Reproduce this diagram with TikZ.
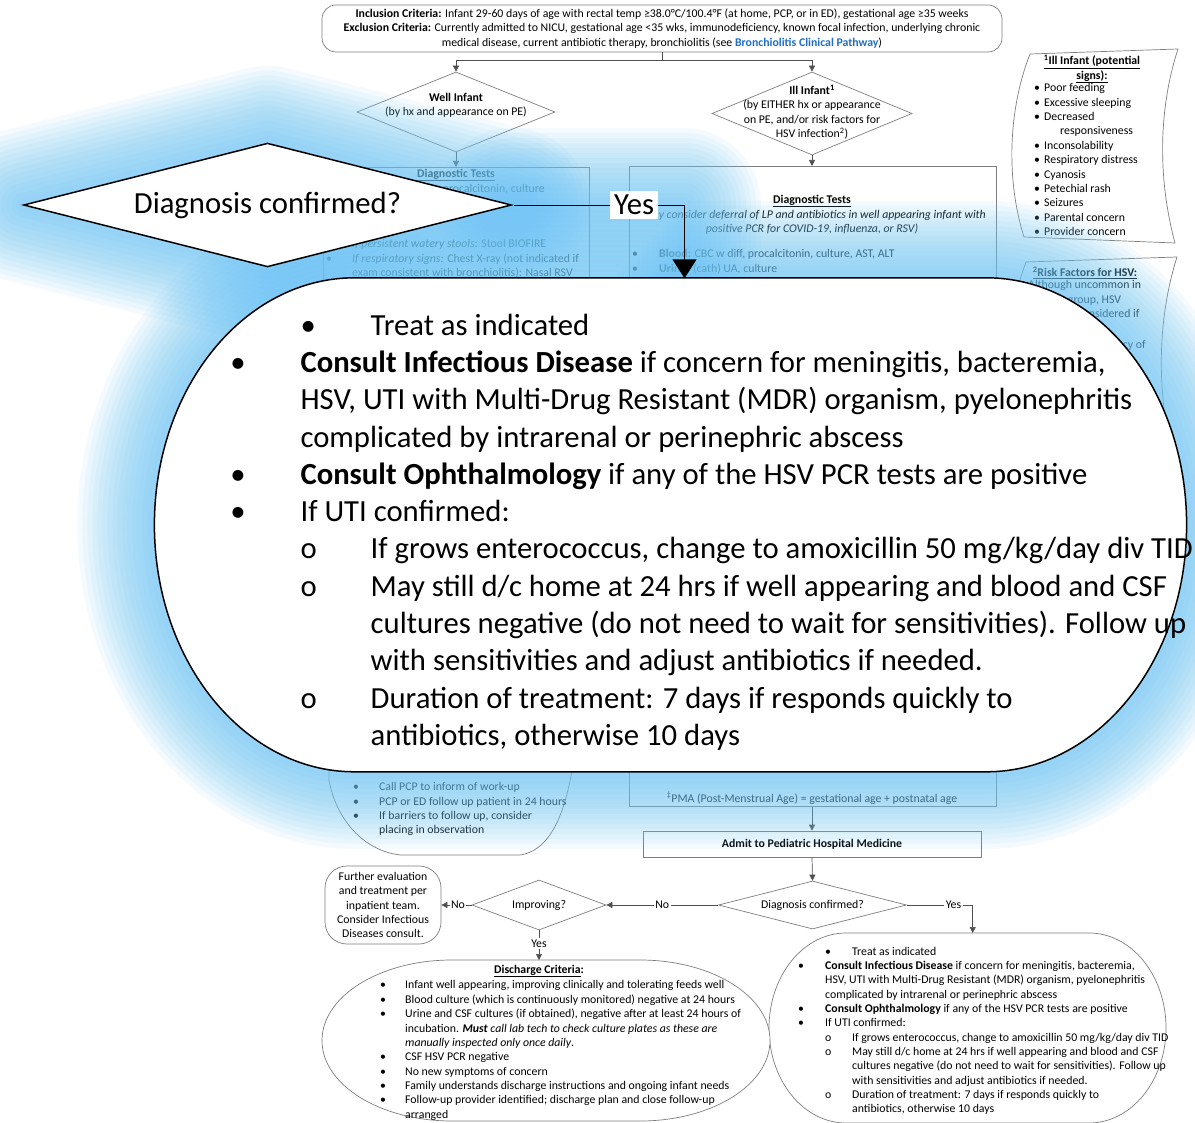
\documentclass[tikz,border=0pt]{standalone}
\usepackage{fontspec}
\setmainfont{Carlito}
\usetikzlibrary{shapes.geometric,arrows.meta}

\definecolor{linkblue}{HTML}{1F6FC4}
\definecolor{glowblue}{RGB}{110,198,246}
\definecolor{boxgray}{HTML}{7F7F7F}
\definecolor{wiregray}{HTML}{505050}

\tikzset{
  txt/.style={font=\fontsize{11.8}{14.35}\selectfont, inner sep=0pt, text=black},
  shapeline/.style={draw=boxgray, line width=0.7pt},
  wire/.style={draw=wiregray, line width=0.7pt},
  arr/.style={wire, -{Triangle[length=6pt,width=6pt]}},
  lbl/.style={txt, fill=white, inner sep=1.5pt},
  dec/.style={diamond, shapeline, fill=white, inner sep=0pt},
  halo/.style={draw=glowblue, opacity=0.075, line join=round, line cap=round},
}

% bulleted rows: fixed-width bullet column, continuation rows indented
\newcommand\bul[2][27pt]{\makebox[#1][l]{•}#2}
\newcommand\subul[2]{\hspace*{27pt}\makebox[27pt][l]{#1}#2}
\newcommand\bcont[2][27pt]{\hspace*{#1}#2}
\newcommand\blist[1]{\begin{tabular}{@{}l@{}}#1\end{tabular}}

% flat-topped oval with elliptic ends: left centre x, right centre x, end radius, top, bottom
\newcommand\stadium[5]{%
 (#1,#4) -- (#2,#4)
 .. controls ({#2+0.5523*#3},#4) and ({#2+#3},{(#4+#5)/2-0.5523*(#5-#4)/2}) .. ({#2+#3},{(#4+#5)/2})
 .. controls ({#2+#3},{(#4+#5)/2+0.5523*(#5-#4)/2}) and ({#2+0.5523*#3},#5) .. (#2,#5)
 -- (#1,#5)
 .. controls ({#1-0.5523*#3},#5) and ({#1-#3},{(#4+#5)/2+0.5523*(#5-#4)/2}) .. ({#1-#3},{(#4+#5)/2})
 .. controls ({#1-#3},{(#4+#5)/2-0.5523*(#5-#4)/2}) and ({#1-0.5523*#3},#4) .. (#1,#4) -- cycle}

\newcommand\treatlist{\blist{%
 \subul{•}{Treat as indicated}\\
 \bul{\textbf{Consult Infectious Disease} if concern for meningitis, bacteremia,}\\
 \bcont{HSV, UTI with Multi-Drug Resistant (MDR) organism, pyelonephritis}\\
 \bcont{complicated by intrarenal or perinephric abscess}\\
 \bul{\textbf{Consult Ophthalmology} if any of the HSV PCR tests are positive}\\
 \bul{If UTI confirmed:}\\
 \subul{o}{If grows enterococcus, change to amoxicillin 50 mg/kg/day div TID}\\
 \subul{o}{May still d/c home at 24 hrs if well appearing and blood and CSF}\\
 \bcont[54pt]{cultures negative (do not need to wait for sensitivities). Follow up}\\
 \bcont[54pt]{with sensitivities and adjust antibiotics if needed.}\\
 \subul{o}{Duration of treatment: 7 days if responds quickly to}\\
 \bcont[54pt]{antibiotics, otherwise 10 days}}}

% decision, Yes branch and treatment oval
% #1 name prefix, #2 outline colour, #3 connector colour, #4 line width, #5 arrow tip
\newcommand\treatgroup[5]{%
  \node[diamond, draw=#2, line width=#4, fill=white, inner sep=0pt,
        minimum width=188, minimum height=48] (#1dec) at (812.5,905) {};
  \node[txt] (#1dect) at (812.5,905) {Diagnosis confirmed?};
  \draw[draw=#2, line width=#4, fill=white] \stadium{846}{1089}{77}{933}{1123};
  \coordinate (#1turn) at (972.7,905);
  \coordinate (#1ovtop) at (972.7,933);
  \draw[draw=#3, line width=#4, #5] (#1dec.east) -- (#1turn) -- (#1ovtop);
  \node[lbl] (#1yes) at (953.5,905) {Yes};
  \node[txt, anchor=north west] (#1list) at (798,944.8) {\treatlist};
}

\begin{document}
\begin{tikzpicture}[x=1pt, y=-1pt]
\clip (0,0) rectangle (1195,1123);
\fill[white] (0,0) rectangle (1195,1123);

% ---------- criteria ----------
\node[txt, draw=boxgray, line width=0.7pt, rounded corners=14pt, minimum width=680,
      minimum height=47, align=center] (crit) at (662,28.5)
  {\textbf{Inclusion Criteria:} Infant 29-60 days of age with rectal temp ≥38.0°C/100.4°F (at home, PCP, or in ED), gestational age ≥35 weeks\\
   \textbf{Exclusion Criteria:} Currently admitted to NICU, gestational age <35 wks, immunodeficiency, known focal infection, underlying chronic\\
   medical disease, current antibiotic therapy, bronchiolitis (see {\color{linkblue}\textbf{Bronchiolitis Clinical Pathway}})};

% ---------- first decisions ----------
\node[dec, minimum width=198, minimum height=80] (well) at (456,112) {};
\node[txt, align=center] (wellt) at (456,105) {\textbf{Well Infant}\\(by hx and appearance on PE)};
\node[dec, minimum width=200, minimum height=83] (ill) at (812,113.5) {};
\node[txt, align=center] (illt) at (812,112)
  {\textbf{Ill Infant\textsuperscript{1}}\\(by EITHER hx or appearance\\on PE, and/or risk factors for\\HSV infection\textsuperscript{2})};

\coordinate (split) at (662,60);
\draw[wire] (crit.south) -- (split);
\draw[arr] (split) -| (well.north);
\draw[arr] (split) -| (ill.north);

% ---------- test boxes ----------
\node[shapeline, minimum width=266, minimum height=540, anchor=north west] (ltests) at (323,167) {};
\node[shapeline, minimum width=367, minimum height=640, anchor=north west] (rtests) at (629,166) {};
\draw[arr] (well.south) -- (well.south |- ltests.north);
\draw[arr] (ill.south) -- (ill.south |- rtests.north);

\node[txt] (ltitle) at (456,175) {\textbf{\underline{Diagnostic Tests}}};
\node[txt, anchor=east] (lblood) at (545,189) {procalcitonin, culture};
\node[txt, anchor=north west] (lmore) at (326,237.7)
  {\blist{\bul[26pt]{\textit{If persistent watery stools}: Stool BIOFIRE}\\
          \bul[26pt]{\textit{If respiratory signs:} Chest X-ray (not indicated if}\\
          \bcont[26pt]{exam consistent with bronchiolitis): Nasal RSV}}};

\node[txt] (rtitle) at (812,201) {\textbf{\underline{Diagnostic Tests}}};
\node[txt, anchor=east] (rnote1) at (986,215)
  {\textit{y consider deferral of LP and antibiotics in well appearing infant with}};
\node[txt] (rnote2) at (812,229) {\textit{positive PCR for COVID-19, influenza, or RSV)}};
\node[txt, anchor=north west] (rlist) at (632,247.7)
  {\blist{\bul[27pt]{\textbf{Blood:} CBC w diff, procalcitonin, culture, AST, ALT}\\
          \bul[27pt]{\textbf{Urine:} (cath) UA, culture}}};
\node[txt] (pma) at (812,798) {\textsuperscript{‡}PMA (Post-Menstrual Age) = gestational age + postnatal age};

% ---------- side notes ----------
\draw[shapeline] (1030,54) -- (1178,49) .. controls (1158,110) and (1158,180) .. (1175,243)
  -- (1024,237) .. controls (1006,180) and (1008,110) .. (1030,54) -- cycle;
\node[txt, align=center] (signs) at (1092,69)
  {\textbf{\underline{\textsuperscript{1}Ill Infant (potential}}\\\textbf{\underline{signs):}}};
\node[txt, anchor=north west] (signlist) at (1034,81.7)
  {\blist{\bul[10pt]{Poor feeding}\\\bul[10pt]{Excessive sleeping}\\\bul[10pt]{Decreased}\\
          \bcont[26pt]{responsiveness}\\\bul[10pt]{Inconsolability}\\\bul[10pt]{Respiratory distress}\\
          \bul[10pt]{Cyanosis}\\\bul[10pt]{Petechial rash}\\\bul[10pt]{Seizures}\\
          \bul[10pt]{Parental concern}\\\bul[10pt]{Provider concern}}};

\draw[shapeline] (1026,262) -- (1177,257) .. controls (1157,320) and (1157,390) .. (1172,455)
  -- (1020,460) .. controls (1002,390) and (1004,320) .. (1026,262) -- cycle;
\node[txt] (hsvtitle) at (1085,273) {\textbf{\underline{\textsuperscript{2}Risk Factors for HSV:}}};
\node[txt, anchor=north west] (hsvlist) at (1028,278.7)
  {\blist{Although uncommon in\\this age group, HSV\\should be considered if}};
\node[txt, anchor=east] (hsvfrag) at (1146,345) {cy of};

% ---------- well-infant follow up ----------
\draw[shapeline] (329,700) -- (329,780) .. controls (335,815) and (360,850) .. (400,855)
  -- (520,855) .. controls (555,850) and (575,800) .. (578,700);
\node[txt, anchor=north west] (pcplist) at (353,780.7)
  {\blist{\bul[26pt]{Call PCP to inform of work-up}\\\bul[26pt]{PCP or ED follow up patient in 24 hours}\\
          \bul[26pt]{If barriers to follow up, consider}\\\bcont[26pt]{placing in observation}}};

% ---------- admission ----------
\node[txt, draw=boxgray, line width=0.7pt, minimum width=338, minimum height=26] (admit) at (812,844)
  {\textbf{Admit to Pediatric Hospital Medicine}};
\draw[arr] (admit.north |- rtests.south) -- (admit.north);

\treatgroup{s}{boxgray}{wiregray}{0.7pt}{-{Triangle[length=6pt,width=6pt]}}
\draw[arr] (admit.south) -- (sdec.north);

\node[dec, minimum width=134, minimum height=50] (impr) at (539,905) {};
\node[txt] (imprt) at (539,905) {Improving?};
\draw[arr] (sdec.west) -- (impr.east) node[lbl, pos=0.5] (no1) {No};

\node[txt, draw=boxgray, line width=0.7pt, rounded corners=22pt, minimum width=116,
      minimum height=78, align=center] (further) at (383,905)
  {Further evaluation\\and treatment per\\inpatient team.\\Consider Infectious\\Diseases consult.};
\draw[arr] (impr.west) -- (further.east) node[lbl, pos=0.45] (no2) {No};

\coordinate (distop) at (539,960);
\draw[shapeline, fill=white] \stadium{452}{640}{130}{960}{1121};
\draw[arr] (impr.south) -- (distop) node[lbl, pos=0.45] (yes2) {Yes};
\node[txt] (distitle) at (539,971) {\textbf{\underline{Discharge Criteria}:}};
\node[txt, anchor=north west] (dislist) at (380,978.7)
  {\blist{\bul[25pt]{Infant well appearing, improving clinically and tolerating feeds well}\\
          \bul[25pt]{Blood culture (which is continuously monitored) negative at 24 hours}\\
          \bul[25pt]{Urine and CSF cultures (if obtained), negative after at least 24 hours of}\\
          \bcont[25pt]{incubation. \textbf{\textit{Must}} \textit{call lab tech to check culture plates as these are}}\\
          \bcont[25pt]{\textit{manually inspected only once daily}.}\\
          \bul[25pt]{CSF HSV PCR negative}\\
          \bul[25pt]{No new symptoms of concern}\\
          \bul[25pt]{Family understands discharge instructions and ongoing infant needs}\\
          \bul[25pt]{Follow-up provider identified; discharge plan and close follow-up}\\
          \bcont[25pt]{arranged}}};

% ---------- magnified decision and treatment, with soft halo ----------
\begin{scope}[shift={(-1845,-2148)}, scale=2.6, transform shape]
  \foreach \w in {14,24,...,154} {
    \draw[halo, line width=\w pt] \stadium{846}{1089}{77}{933}{1123};
    \draw[halo, line width=\w pt] (718.5,905) -- (812.5,881) -- (906.5,905) -- (812.5,929) -- cycle;
    \draw[halo, line width=\w pt] (906.5,905) -- (972.7,905) -- (972.7,933);
  }
  \treatgroup{b}{black}{black}{1.5pt}{-{Triangle[length=19pt,width=24pt]}}
\end{scope}
\end{tikzpicture}
\end{document}
